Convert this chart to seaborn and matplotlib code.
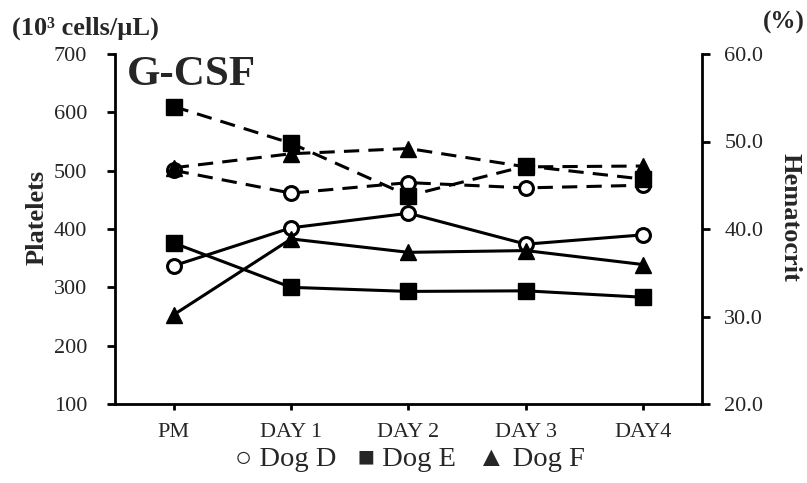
import matplotlib
matplotlib.use("Agg")
import matplotlib.pyplot as plt
import seaborn as sns
import pandas as pd

# data
days = ["PM", "DAY 1", "DAY 2", "DAY 3", "DAY4"]
dogs = ["Dog D", "Dog E", "Dog F"]
platelets_D = [337, 402, 427, 374, 390]
platelets_E = [376, 300, 293, 294, 283]
platelets_F = [253, 383, 360, 363, 339]
hct_D = [46.7, 44.1, 45.3, 44.7, 45.0]
hct_E = [54.0, 49.8, 43.8, 47.2, 45.7]
hct_F = [47.0, 48.6, 49.2, 47.1, 47.2]

sns.set_theme(style="white")
plt.rcParams['font.family'] = ['Liberation Serif', 'DejaVu Serif']

rows = []
for dog, plt_vals, hct_vals in zip(dogs, [platelets_D, platelets_E, platelets_F],
                                   [hct_D, hct_E, hct_F]):
    for i, d in enumerate(days):
        rows.append({"dog": dog, "pos": i, "day": d,
                     "platelets": plt_vals[i], "hct": hct_vals[i]})
df = pd.DataFrame(rows)

marker_style = {
    "Dog D": dict(marker="o", markersize=10, markerfacecolor="white",
                  markeredgecolor="black", markeredgewidth=2.2),
    "Dog E": dict(marker="s", markersize=11, markerfacecolor="black",
                  markeredgecolor="black", markeredgewidth=1),
    "Dog F": dict(marker="^", markersize=12, markerfacecolor="black",
                  markeredgecolor="black", markeredgewidth=1),
}

fig = plt.figure(figsize=(8.07, 4.83), dpi=100)
ax = fig.add_axes([115/807, 1-404/483, (702-115)/807, (404-54)/483])
ax2 = ax.twinx()

for dog in dogs:
    sub = df[df["dog"] == dog]
    sns.lineplot(data=sub, x="pos", y="platelets", ax=ax, color="black",
                 lw=2.2, sort=False, **marker_style[dog])
    sns.lineplot(data=sub, x="pos", y="hct", ax=ax2, color="black",
                 lw=2.2, sort=False, linestyle=(0, (5, 3)), **marker_style[dog])

ax.set_xlim(-0.5, 4.5)
ax.set_ylim(100, 700)
ax2.set_ylim(20, 60)
ax.set_yticks(range(100, 701, 100))
ax2.set_yticks([20, 30, 40, 50, 60])
ax2.set_yticklabels([f"{v:.1f}" for v in [20, 30, 40, 50, 60]])
ax.set_xticks(range(len(days)))
ax.set_xticklabels(days)

for a in (ax, ax2):
    a.set_xlabel("")
    a.grid(False)
    for s in a.spines.values():
        s.set_color("black")
        s.set_linewidth(2)
    a.spines["top"].set_visible(False)
ax.spines["right"].set_visible(False)
ax2.spines["left"].set_visible(False)
ax2.spines["bottom"].set_visible(False)

ax.tick_params(axis="y", direction="out", length=6, width=2, color="black",
               labelsize=16, pad=14, left=True)
ax.tick_params(axis="x", direction="out", length=4, width=2, color="black",
               labelsize=16, pad=10, bottom=True)
ax2.tick_params(axis="y", direction="out", length=6, width=2, color="black",
                labelsize=16, pad=10, right=True)

ax.set_ylabel("Platelets", fontsize=19, fontweight="bold", va="center")
ax.yaxis.set_label_coords(-0.133, 0.534)
ax2.set_ylabel("Hematocrit", fontsize=19, fontweight="bold", rotation=270,
               va="center")
ax2.yaxis.set_label_coords(1.15, 0.534)

fig.text(85/807, 1-28/483, "(10³ cells/µL)", fontsize=19, fontweight="bold",
         ha="center", va="center")
fig.text(784/807, 1-22/483, "(%)", fontsize=18, fontweight="bold",
         ha="center", va="center")
ax.text(0.02, 0.995, "G-CSF", transform=ax.transAxes, fontsize=31,
        fontweight="bold", ha="left", va="top")

legend_txt = "○ " + dogs[0] + "   ■ " + dogs[1] + "   ▲ " + dogs[2]
fig.text(410/807, 1-460/483, legend_txt, fontsize=20.5, ha="center",
         va="center")

fig.savefig("out.png", dpi=100)
